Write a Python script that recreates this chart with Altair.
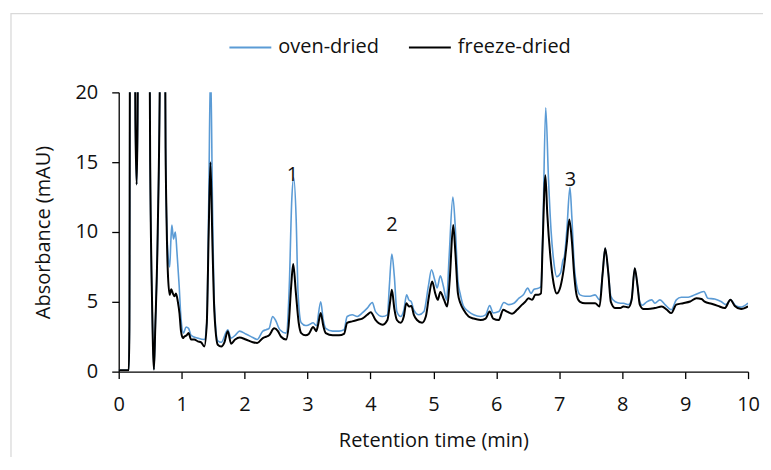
import altair as alt
import pandas as pd

# ---- data ----
oven_t = [0.00, 0.16, 0.17, 0.185, 0.24, 0.265, 0.285, 0.30, 0.32, 0.47, 0.50, 0.53, 0.56, 0.58,
          0.62, 0.66, 0.69, 0.72, 0.745, 0.76, 0.79, 0.81, 0.83, 0.845, 0.87, 0.90, 0.925, 0.96,
          0.99, 1.03, 1.07, 1.11, 1.15, 1.257, 1.36, 1.40, 1.43, 1.46, 1.49, 1.52, 1.574, 1.63,
          1.733, 1.786, 1.85, 1.92, 2.02, 2.13, 2.20, 2.29, 2.34, 2.39, 2.445, 2.49, 2.56, 2.66,
          2.71, 2.75, 2.78, 2.82, 2.85, 2.90, 2.97, 3.02, 3.09, 3.14, 3.21, 3.25, 3.29, 3.40,
          3.50, 3.58, 3.63, 3.71, 3.79, 3.87, 3.95, 4.03, 4.08, 4.19, 4.27, 4.30, 4.34, 4.38,
          4.42, 4.48, 4.53, 4.575, 4.61, 4.65, 4.69, 4.77, 4.85, 4.92, 4.97, 5.02, 5.06, 5.11,
          5.16, 5.21, 5.25, 5.31, 5.35, 5.39, 5.43, 5.48, 5.56, 5.64, 5.75, 5.83, 5.895, 5.95,
          6.04, 6.12, 6.20, 6.28, 6.36, 6.43, 6.50, 6.55, 6.60, 6.67, 6.71, 6.74, 6.785, 6.83,
          6.87, 6.91, 6.96, 7.02, 7.06, 7.08, 7.12, 7.17, 7.20, 7.24, 7.28, 7.33, 7.41, 7.49,
          7.57, 7.64, 7.69, 7.73, 7.78, 7.82, 7.89, 7.97, 8.02, 8.10, 8.15, 8.20, 8.245, 8.28,
          8.32, 8.39, 8.47, 8.52, 8.60, 8.68, 8.78, 8.86, 8.94, 9.05, 9.155, 9.30, 9.36, 9.47,
          9.57, 9.65, 9.72, 9.81, 9.89, 10.00]
oven_v = [0.1, 0.1, 3, 40, 40, 18, 13.4, 18, 40, 40, 15, 5, 0.15, 3,
          10, 25, 60, 40, 16, 11, 8, 7.5, 9.5, 10.5, 9.5, 10.0, 8.6, 6.2,
          3.8, 2.76, 3.2, 3.1, 2.6, 2.4, 2.3, 3.5, 12, 22, 12, 4.8, 2.2, 2.1,
          3.0, 2.4, 2.6, 2.9, 2.7, 2.45, 2.3, 2.9, 3.0, 3.1, 3.95, 3.7, 3.0, 2.76,
          6.1, 12.3, 13.9, 10.9, 5.6, 3.5, 3.3, 3.35, 3.5, 3.3, 5.0, 3.7, 3.1, 2.9,
          2.9, 3.0, 3.95, 4.07, 3.95, 4.2, 4.55, 4.95, 4.3, 3.95, 4.07, 6.1, 8.43, 6.8,
          4.3, 3.95, 4.4, 5.5, 5.14, 5.0, 4.4, 4.07, 4.3, 6.1, 7.3, 6.6, 6.0, 6.86,
          6.1, 5.14, 8.2, 12.5, 10.2, 6.5, 5.5, 4.67, 4.3, 4.07, 3.95, 4.07, 4.74, 4.2,
          4.3, 4.95, 4.8, 4.9, 5.26, 5.5, 5.98, 5.6, 5.9, 5.98, 6.1, 10.1, 18.9, 13.7,
          10.1, 8.0, 6.8, 7.05, 8.0, 8.2, 10.1, 13.2, 11.1, 7.5, 6.1, 5.5, 5.4, 5.4,
          5.5, 5.14, 7.05, 8.83, 7.05, 5.4, 5.0, 4.9, 4.9, 4.8, 5.2, 7.4, 6.1, 5.0,
          4.75, 5.0, 5.14, 4.9, 5.14, 4.8, 4.43, 5.14, 5.33, 5.33, 5.5, 5.74, 5.26, 5.2,
          5.02, 4.8, 5.14, 4.7, 4.62, 4.9]

freeze_t = [0.00, 0.16, 0.17, 0.185, 0.24, 0.265, 0.285, 0.30, 0.32, 0.47, 0.50, 0.53, 0.56, 0.58,
            0.62, 0.66, 0.69, 0.72, 0.745, 0.76, 0.78, 0.81, 0.835, 0.86, 0.887, 0.91, 0.94, 0.965,
            0.99, 1.02, 1.04, 1.08, 1.11, 1.15, 1.20, 1.257, 1.31, 1.36, 1.40, 1.43, 1.458, 1.49,
            1.52, 1.574, 1.63, 1.68, 1.733, 1.786, 1.85, 1.92, 2.02, 2.13, 2.20, 2.29, 2.34, 2.39,
            2.47, 2.53, 2.58, 2.66, 2.70, 2.74, 2.773, 2.816, 2.86, 2.90, 2.97, 3.02, 3.09, 3.14,
            3.17, 3.21, 3.25, 3.29, 3.40, 3.50, 3.58, 3.63, 3.71, 3.79, 3.87, 3.95, 4.005, 4.08,
            4.19, 4.27, 4.31, 4.34, 4.38, 4.42, 4.48, 4.53, 4.57, 4.61, 4.65, 4.69, 4.74, 4.82,
            4.88, 4.93, 4.98, 5.03, 5.07, 5.11, 5.17, 5.22, 5.26, 5.315, 5.35, 5.39, 5.43, 5.48,
            5.56, 5.64, 5.75, 5.83, 5.895, 5.95, 6.04, 6.11, 6.17, 6.25, 6.33, 6.41, 6.46, 6.51,
            6.57, 6.62, 6.67, 6.71, 6.735, 6.78, 6.81, 6.86, 6.91, 6.96, 7.02, 7.07, 7.12, 7.16,
            7.20, 7.24, 7.28, 7.33, 7.41, 7.49, 7.57, 7.64, 7.69, 7.73, 7.78, 7.82, 7.89, 7.97,
            8.02, 8.10, 8.15, 8.20, 8.245, 8.28, 8.34, 8.41, 8.52, 8.63, 8.71, 8.78, 8.86, 8.97,
            9.08, 9.18, 9.26, 9.31, 9.42, 9.52, 9.63, 9.72, 9.79, 9.89, 10.00]
freeze_v = [0.1, 0.1, 3, 40, 40, 18, 13.4, 18, 40, 40, 15, 5, 0.15, 3,
            10, 25, 60, 40, 16, 11, 7.2, 5.5, 5.9, 5.6, 5.4, 5.6, 5.0, 4.2,
            2.9, 2.4, 2.5, 2.6, 2.76, 2.3, 2.3, 2.17, 2.1, 1.8, 3.5, 10, 15.0, 9,
            4.3, 1.93, 1.8, 2.1, 2.9, 2.0, 2.3, 2.45, 2.3, 2.1, 2.05, 2.4, 2.5, 2.6,
            3.1, 2.9, 2.5, 2.3, 3.3, 6.1, 7.7, 5.6, 3.5, 2.76, 2.6, 2.7, 3.2, 2.9,
            3.4, 4.2, 3.3, 2.76, 2.6, 2.6, 2.7, 3.5, 3.6, 3.7, 3.8, 4.07, 4.25, 3.7,
            3.36, 3.7, 4.9, 5.86, 4.5, 3.7, 3.5, 3.95, 4.9, 4.67, 4.7, 4.07, 3.7, 3.5,
            3.95, 5.4, 6.45, 5.6, 5.14, 5.7, 5.14, 4.67, 6.6, 10.5, 8.5, 5.6, 4.9, 4.43,
            3.95, 3.8, 3.7, 3.8, 4.3, 3.8, 3.7, 4.43, 4.3, 4.14, 4.43, 4.8, 5.0, 5.26,
            5.14, 5.5, 5.5, 5.6, 8.95, 14.07, 11.3, 8.2, 6.33, 5.6, 6.1, 7.3, 9.2, 10.9,
            9.4, 6.8, 5.4, 5.0, 4.9, 4.9, 4.9, 4.67, 7.05, 8.83, 7.05, 5.0, 4.55, 4.55,
            4.67, 4.6, 5.14, 7.4, 6.1, 4.8, 4.48, 4.48, 4.55, 4.67, 4.43, 4.19, 4.8, 4.9,
            5.02, 5.26, 5.2, 5.02, 4.86, 4.71, 4.55, 5.14, 4.7, 4.48, 4.67]

series_names = ["oven-dried", "freeze-dried"]
series_colors = ["#5B9BD5", "#000000"]

peak_labels = ["1", "2", "3"]
peak_t = [2.76, 4.34, 7.18]
peak_v = [14.1, 10.5, 13.7]

x_ticks = list(range(0, 11))
y_ticks = [0, 5, 10, 15, 20]

# ---- tables ----
oven_df = pd.DataFrame({"t": oven_t, "v": oven_v, "series": series_names[0]})
freeze_df = pd.DataFrame({"t": freeze_t, "v": freeze_v, "series": series_names[1]})
label_df = pd.DataFrame({"t": peak_t, "v": peak_v, "label": peak_labels})

FONT = "Open Sans"
FS = 20

x_enc = alt.X("t:Q", title="Retention time (min)",
              scale=alt.Scale(domain=[0, 10], nice=False),
              axis=alt.Axis(values=x_ticks, format="d", grid=False, labelFlush=False))
y_enc = alt.Y("v:Q", title="Absorbance (mAU)",
              scale=alt.Scale(domain=[0, 20], nice=False),
              axis=alt.Axis(values=y_ticks, format="d", grid=False, labelFlush=False))
color_enc = alt.Color("series:N",
                      scale=alt.Scale(domain=series_names, range=series_colors),
                      legend=alt.Legend(title=None, orient="none", direction="horizontal",
                                        legendX=110, legendY=-67,
                                        symbolType="stroke", symbolSize=1764,
                                        symbolStrokeWidth=2, labelFontSize=FS,
                                        labelFont=FONT, labelColor="#111111",
                                        labelOffset=6, columnPadding=26, padding=0))

oven_line = alt.Chart(oven_df).mark_line(strokeWidth=1.6, clip=True, interpolate="monotone").encode(
    x=x_enc, y=y_enc, color=color_enc)
freeze_line = alt.Chart(freeze_df).mark_line(strokeWidth=2, clip=True, interpolate="monotone").encode(
    x=x_enc, y=y_enc, color=color_enc)

labels = alt.Chart(label_df).mark_text(font=FONT, fontSize=FS, color="#111111",
                                       baseline="middle", align="center").encode(
    x="t:Q", y="v:Q", text="label:N")

border = alt.Chart(pd.DataFrame({"a": [0]})).mark_rect(
    fill=None, stroke="#D9D9D9", strokeWidth=1.3, clip=False).encode(
    x=alt.value(-108), x2=alt.value(900), y=alt.value(-79), y2=alt.value(600))

chart = alt.layer(border, oven_line, freeze_line, labels).properties(
    width=631, height=280,
    autosize=alt.AutoSizeParams(type="none"),
    padding={"left": 111, "top": 84, "right": 15, "bottom": 85},
).configure_view(stroke=None).configure_axis(
    domainColor="#000000", domainWidth=1.3, tickColor="#000000", tickWidth=1.3,
    tickSize=7, labelFont=FONT, labelFontSize=FS, labelColor="#111111",
    titleFont=FONT, titleFontSize=FS, titleColor="#111111", titleFontWeight="normal",
).configure_axisX(labelPadding=16, titlePadding=16).configure_axisY(
    labelPadding=14, titlePadding=22)

chart.save("out.html", embed_options={"renderer": "svg", "actions": False})
